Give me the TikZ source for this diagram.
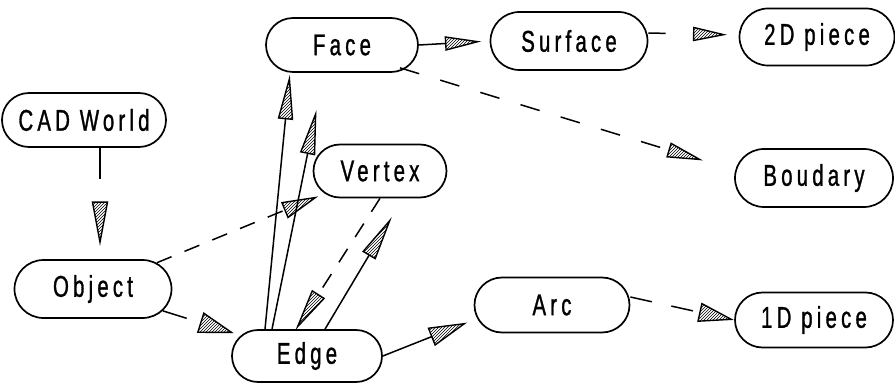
\documentclass[tikz,border=0pt]{standalone}
\usepackage{fontspec}
\newfontfamily\dfont{Liberation Sans}[FakeStretch=0.68,LetterSpace=14,FakeBold=1]
\usetikzlibrary{shapes.misc,decorations.markings,patterns}
\newcommand\hatri[2]{%
  \fill[white] (0,0) -- (-#1,#2/2) -- (-#1,-#2/2) -- cycle;
  \draw[solid,line width=1.4pt,pattern=north east lines,shorten >=0pt,shorten <=0pt,line join=miter]
    (0,0) -- (-#1,#2/2) -- (-#1,-#2/2) -- cycle;}
\tikzset{
  box/.style={draw,rounded rectangle,line width=1.7pt,minimum height=54pt,inner sep=0pt,
    font=\dfont\fontsize{30}{32}\selectfont},
  ln/.style={line width=1.5pt},
  dsh/.style={line width=1.5pt,dash pattern=on 16pt off 14pt},
  harr/.style n args={3}{postaction={decorate,decoration={markings,
    mark=at position -#1 with {\hatri{#2}{#3}}}}}
}
\begin{document}
\begin{tikzpicture}[x=1pt,y=-1pt]
\useasboundingbox (0,0) rectangle (895,385);
\node[box,minimum width=164pt] (cad) at (84,120) {CAD World};
\node[box,minimum width=157pt,minimum height=58pt] (obj) at (93,289) {Object};
\node[box,minimum width=150pt,minimum height=52pt] (edge) at (307,356) {Edge};
\node[box,minimum width=152pt] (face) at (342,45) {Face};
\node[box,minimum width=133pt,minimum height=53pt] (vtx) at (380,171) {Vertex};
\node[box,minimum width=157pt,minimum height=58pt] (surf) at (569,41) {Surface};
\node[box,minimum width=155pt,minimum height=57pt] (p2d) at (817,37) {\raisebox{-3pt}{2D piece}};
\node[box,minimum width=158pt,minimum height=58pt] (bnd) at (814,178) {\raisebox{-6pt}{Boudary}};
\node[box,minimum width=155pt,minimum height=55pt] (arc) at (552,305) {Arc};
\node[box,minimum width=158pt,minimum height=55pt] (p1d) at (814,320) {\raisebox{-6pt}{1D piece}};

\draw[ln,shorten >=80pt,harr={17pt}{40}{15}] ([xshift=16pt]cad.south) -- ([xshift=7pt]obj.north);
\draw[dsh,shorten >=43pt,harr={10pt}{33}{16}] (obj) -- (vtx);
\draw[dsh,dash pattern=on 25pt off 20pt,shorten >=42pt,harr={10pt}{32}{20}] (obj) -- (edge);
\draw[ln,shorten >=46pt,harr={6pt}{40}{14}] ([xshift=-42pt]edge.north) -- ([xshift=-52pt]face.south);
\draw[ln,shorten >=82pt,harr={42pt}{40}{14}] ([xshift=-35pt]edge.north) -- ([xshift=-18pt]face.south);
\draw[dsh,shorten >=41pt,harr={3pt}{38}{14}] (vtx.south) -- ([xshift=-11pt]edge.north);
\draw[ln,shorten >=66pt,harr={26pt}{40}{14}] ([xshift=18pt]edge.north) -- ([xshift=23pt]vtx.south);
\draw[ln,shorten >=45pt,harr={10pt}{35}{18}] (edge.east) -- ([yshift=-15pt]arc.west);
\draw[dsh,dash pattern=on 22pt off 20pt,shorten >=35pt,harr={3pt}{32}{18}] ([yshift=8pt]arc.east) -- (p1d.west);
\draw[ln,shorten >=44pt,harr={12pt}{32}{13}] (face.east) -- (surf.west);
\draw[ln,shorten >=73pt,harr={15pt}{30}{13}] ([yshift=8pt]surf.east) -- ([yshift=2pt]p2d.west);
\draw[dsh,dash pattern=on 20pt off 22pt,shorten >=68pt,harr={36pt}{32}{14}] ([xshift=58pt,yshift=5pt]face.south) -- ([yshift=8pt]bnd.west);
\end{tikzpicture}
\end{document}
